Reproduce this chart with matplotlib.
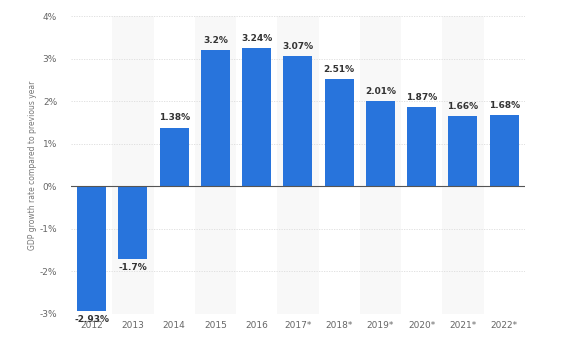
import matplotlib.pyplot as plt

years = ["2012", "2013", "2014", "2015", "2016", "2017*", "2018*", "2019*",
         "2020*", "2021*", "2022*"]
growth = [-2.93, -1.7, 1.38, 3.2, 3.24, 3.07, 2.51, 2.01, 1.87, 1.66, 1.68]
value_labels = ["-2.93%", "-1.7%", "1.38%", "3.2%", "3.24%", "3.07%", "2.51%",
                "2.01%", "1.87%", "1.66%", "1.68%"]
y_ticks = [-3, -2, -1, 0, 1, 2, 3, 4]


def main():
    fig = plt.figure(figsize=(5.87, 3.5), dpi=100)
    ax = fig.add_axes([0.121, 0.103, 0.773, 0.851])

    x = list(range(len(years)))

    # alternating background bands
    for i in x:
        if i % 2 == 1:
            ax.axvspan(i - 0.5, i + 0.5, color="#f8f8f8", zorder=0, lw=0)

    for t in y_ticks:
        if t != 0:
            ax.axhline(t, color="#dcdcdc", lw=0.6, ls=(0, (1.5, 1.5)), zorder=1)
    ax.axhline(0, color="#555555", lw=0.8, zorder=3)

    ax.bar(x, growth, width=0.7, color="#2874dc", zorder=2)

    for i, v in enumerate(growth):
        if v >= 0:
            ax.text(i, v + 0.12, value_labels[i], ha="center", va="bottom",
                    fontsize=6.5, color="#333333", fontweight="bold")
        else:
            ax.text(i, v - 0.1, value_labels[i], ha="center", va="top",
                    fontsize=6.5, color="#333333", fontweight="bold")

    ax.set_xlim(-0.5, len(years) - 0.5)
    ax.set_ylim(-3, 4)
    ax.set_xticks(x)
    ax.set_xticklabels(years)
    ax.set_yticks(y_ticks)
    ax.set_yticklabels([f"{t}%" for t in y_ticks])
    ax.tick_params(axis="both", length=0, labelsize=6.5, colors="#666666")
    ax.tick_params(axis="y", pad=10)
    ax.tick_params(axis="x", pad=5)
    for s in ax.spines.values():
        s.set_visible(False)

    ax.set_ylabel("GDP growth rate compared to previous year", fontsize=5.5,
                  color="#777777", labelpad=2)

    fig.savefig("out.png", dpi=100)


if __name__ == "__main__":
    main()
